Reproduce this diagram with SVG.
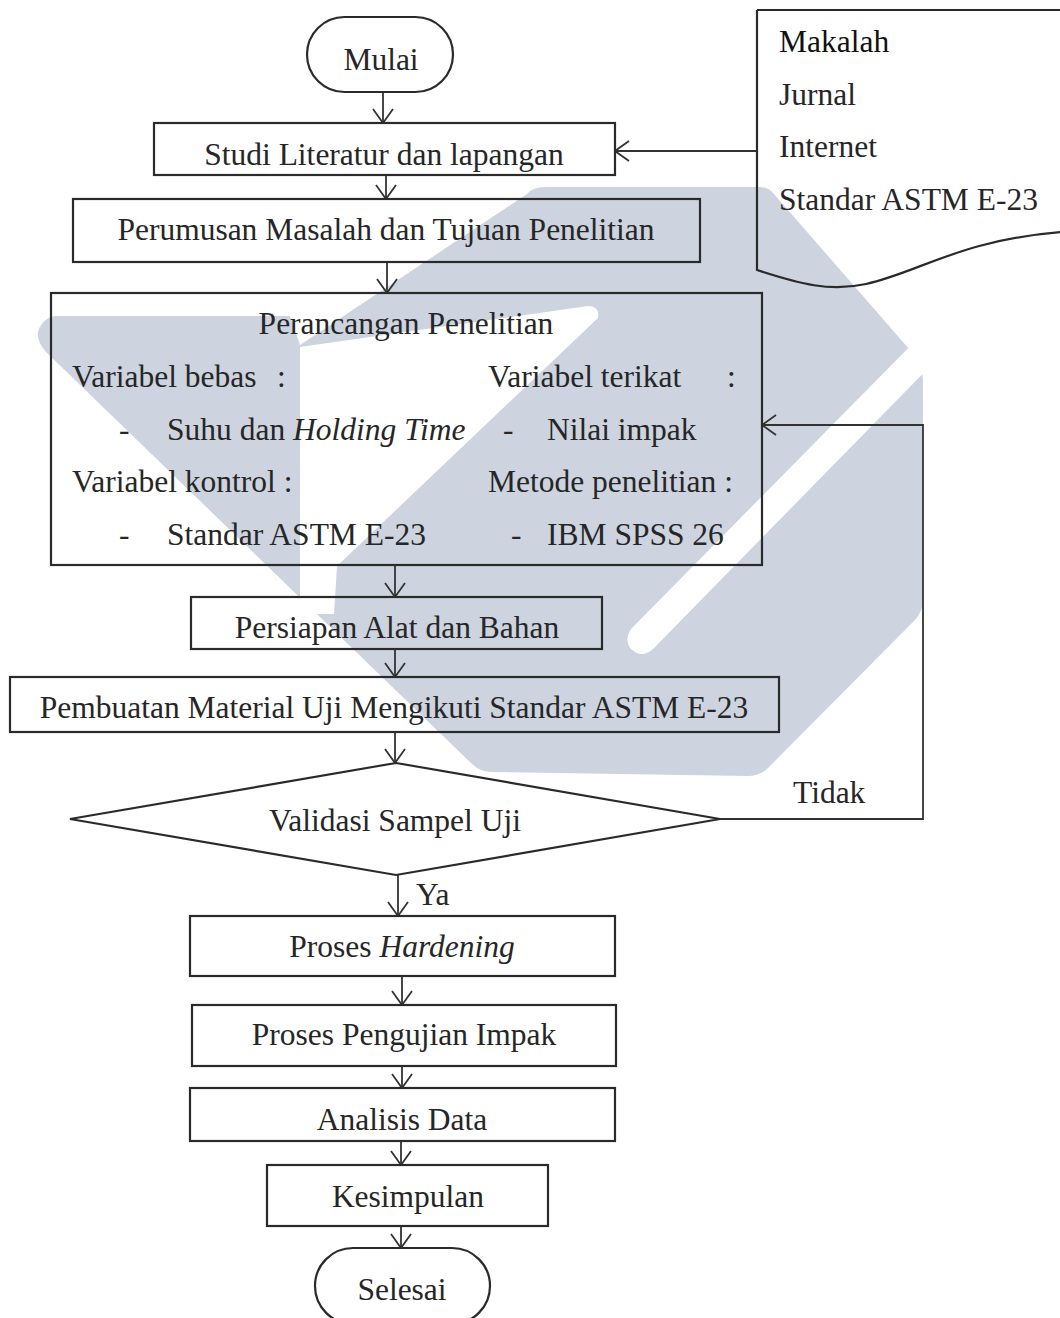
<svg xmlns="http://www.w3.org/2000/svg" width="1060" height="1318" viewBox="0 0 1060 1318">
<style>
.t{font-family:"Liberation Serif","Times New Roman",serif;font-size:31.5px;fill:#262626}
.c{text-anchor:middle}
.b{fill:none;stroke:#2a2a2a;stroke-width:2.2}
.l{fill:none;stroke:#333;stroke-width:1.8}
.wm{fill:#cdd4e0}
.wh{fill:#ffffff}
</style>
<defs>
<marker id="ah" viewBox="0 0 16 22" refX="15" refY="11" markerWidth="16" markerHeight="22" markerUnits="userSpaceOnUse" orient="auto">
<path d="M1,1 L15,11 L1,21" fill="none" stroke="#333" stroke-width="1.8"/>
</marker>
</defs>
<rect width="1060" height="1318" fill="#fff"/>
<g id="watermark">
<path class="wm" d="M56,316 L290,316 L300,345 L527,194 Q533,187 545,187 L760,187 Q768,187 774,194 L910,350 Q923,364 923,380 L923,600 Q923,612 914,621 L768,768 Q760,776 748,776 L492,772 Q480,772 472,764 L46,352 Q32,336 42,324 Q48,316 56,316 Z"/>
<path class="wh" d="M300,347 L588,306 Q600,306 598,318 L337,566 L334,614 L300,614 Z"/>
<path class="wh" d="M930,326 L950,346 L654,648 Q642,660 630,648 Q624,638 632,628 Z"/>
</g>
<g id="connectors">
<line class="l" x1="383" y1="92" x2="383" y2="123" marker-end="url(#ah)"/>
<line class="l" x1="386" y1="175" x2="386" y2="199" marker-end="url(#ah)"/>
<line class="l" x1="387" y1="262" x2="387" y2="293" marker-end="url(#ah)"/>
<line class="l" x1="757" y1="151" x2="615" y2="151" marker-end="url(#ah)"/>
<line class="l" x1="395" y1="565" x2="395" y2="597" marker-end="url(#ah)"/>
<line class="l" x1="395" y1="649" x2="395" y2="677" marker-end="url(#ah)"/>
<line class="l" x1="395" y1="732" x2="395" y2="763" marker-end="url(#ah)"/>
<polyline class="l" points="720,819 923,819 923,425 762,425" marker-end="url(#ah)"/>
<line class="l" x1="398" y1="875" x2="398" y2="916" marker-end="url(#ah)"/>
<line class="l" x1="402" y1="976" x2="402" y2="1005" marker-end="url(#ah)"/>
<line class="l" x1="402" y1="1066" x2="402" y2="1088" marker-end="url(#ah)"/>
<line class="l" x1="401" y1="1141" x2="401" y2="1165" marker-end="url(#ah)"/>
<line class="l" x1="401" y1="1226" x2="401" y2="1248" marker-end="url(#ah)"/>
<text class="t" x="793" y="803">Tidak</text>
<text class="t" x="416" y="905">Ya</text>
</g>
<g id="mulai">
<rect class="b" x="307" y="17" width="146" height="75" rx="37.5" ry="37.5"/>
<text class="t c" x="381" y="70">Mulai</text>
</g>
<g id="sumber">
<path class="b" d="M757,10 L1064,10 M757,10 L757,270 C800,284 830,292 866,284 C920,272 960,240 1062,232"/>
<text class="t" x="779" y="52" style="fill:#111">Makalah</text>
<text class="t" x="779" y="105">Jurnal</text>
<text class="t" x="779" y="157">Internet</text>
<text class="t" x="779" y="210">Standar ASTM E-23</text>
</g>
<g id="studi">
<rect class="b" x="154" y="123" width="461" height="52"/>
<text class="t c" x="384" y="165">Studi Literatur dan lapangan</text>
</g>
<g id="perumusan">
<rect class="b" x="73" y="199" width="627" height="63"/>
<text class="t c" x="386" y="240">Perumusan Masalah dan Tujuan Penelitian</text>
</g>
<g id="perancangan">
<rect class="b" x="51" y="293" width="711" height="272"/>
<text class="t c" x="406" y="334">Perancangan Penelitian</text>
<text class="t" x="72" y="387">Variabel bebas</text>
<text class="t" x="277" y="387">:</text>
<text class="t" x="488" y="387">Variabel terikat</text>
<text class="t" x="727" y="387">:</text>
<text class="t" x="119" y="440">-</text>
<text class="t" x="167" y="440">Suhu dan <tspan font-style="italic">Holding Time</tspan></text>
<text class="t" x="503" y="440">-</text>
<text class="t" x="547" y="440">Nilai impak</text>
<text class="t" x="72" y="492">Variabel kontrol :</text>
<text class="t" x="488" y="492">Metode penelitian :</text>
<text class="t" x="119" y="545">-</text>
<text class="t" x="167" y="545">Standar ASTM E-23</text>
<text class="t" x="511" y="545">-</text>
<text class="t" x="547" y="545">IBM SPSS 26</text>
</g>
<g id="persiapan">
<rect class="b" x="191" y="597" width="411" height="52"/>
<text class="t c" x="397" y="638">Persiapan Alat dan Bahan</text>
</g>
<g id="pembuatan">
<rect class="b" x="10" y="677" width="769" height="55"/>
<text class="t c" x="394" y="718">Pembuatan Material Uji Mengikuti Standar ASTM E-23</text>
</g>
<g id="validasi">
<polygon class="b" points="396,763 720,819 396,875 70,819"/>
<text class="t c" x="395" y="831">Validasi Sampel Uji</text>
</g>
<g id="hardening">
<rect class="b" x="190" y="916" width="425" height="60"/>
<text class="t c" x="402" y="957">Proses <tspan font-style="italic">Hardening</tspan></text>
</g>
<g id="pengujian">
<rect class="b" x="192" y="1005" width="424" height="61"/>
<text class="t c" x="404" y="1045">Proses Pengujian Impak</text>
</g>
<g id="analisis">
<rect class="b" x="190" y="1088" width="425" height="53"/>
<text class="t c" x="402" y="1130">Analisis Data</text>
</g>
<g id="kesimpulan">
<rect class="b" x="267" y="1165" width="281" height="61"/>
<text class="t c" x="408" y="1207">Kesimpulan</text>
</g>
<g id="selesai">
<rect class="b" x="315" y="1248" width="175" height="76" rx="38" ry="38"/>
<text class="t c" x="402" y="1300">Selesai</text>
</g>
</svg>
